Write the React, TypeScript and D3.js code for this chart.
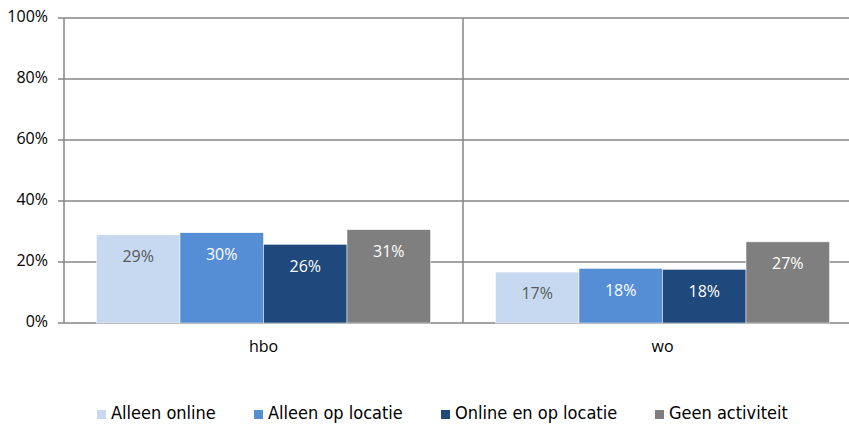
import React from "react";
import * as d3 from "d3";

const categories = ["hbo", "wo"];
const seriesNames = ["Alleen online", "Alleen op locatie", "Online en op locatie", "Geen activiteit"];
const seriesColors = ["#C6D9F1", "#558ED5", "#1F497D", "#7F7F7F"];
const labelColors = ["#595959", "#FFFFFF", "#FFFFFF", "#FFFFFF"];
const hboValues = [0.289, 0.296, 0.258, 0.306];
const woValues = [0.167, 0.179, 0.176, 0.266];
const yTicks = [0, 0.2, 0.4, 0.6, 0.8, 1.0];
const legendX = [97, 254, 441, 655];

const values: Record<string, number[]> = { hbo: hboValues, wo: woValues };

export default function App() {
  const W = 849, H = 424;
  const left = 64, top = 18, bottom = 323, catW = 399;
  const x0 = d3.scaleBand<string>().domain(categories).range([left, left + catW * categories.length]).padding(0);
  const x1 = d3.scaleBand<string>().domain(seriesNames).range([0, x0.bandwidth()]).paddingInner(0).paddingOuter(0.389);
  const y = d3.scaleLinear().domain([0, 1]).range([bottom, top]);
  const fmt = d3.format(".0%");
  const gridColor = "#868686";
  const font = "'Open Sans', sans-serif";

  return (
    <div style={{ position: "absolute", left: 0, top: 0 }}>
      <svg width={W} height={H} style={{ display: "block", background: "#fff" }}>
        {yTicks.map((t) => (
          <g key={t}>
            <line x1={left - 6} x2={W + 20} y1={y(t)} y2={y(t)} stroke={gridColor} strokeWidth={1.5} />
            <text x={48} y={y(t)} textAnchor="end" dominantBaseline="middle" fontFamily={font} fontSize={16} fill="#000">
              {fmt(t)}
            </text>
          </g>
        ))}
        <line x1={left} x2={left} y1={top} y2={bottom} stroke={gridColor} strokeWidth={1.5} />
        {categories.slice(1).map((c) => (
          <line key={c} x1={x0(c)!} x2={x0(c)!} y1={top} y2={bottom} stroke={gridColor} strokeWidth={1.5} />
        ))}
        {categories.map((c) => (
          <g key={c}>
            {seriesNames.map((s, i) => {
              const v = values[c][i];
              const bx = x0(c)! + x1(s)!;
              const by = y(v);
              return (
                <g key={s}>
                  <rect x={bx} y={by} width={x1.bandwidth()} height={bottom - by} fill={seriesColors[i]} stroke="#fff" strokeWidth={0.5} />
                  <text x={bx + x1.bandwidth() / 2} y={by + 23} textAnchor="middle" dominantBaseline="middle" fontFamily={font} fontSize={16} fill={labelColors[i]}>
                    {fmt(v)}
                  </text>
                </g>
              );
            })}
            <text x={x0(c)! + x0.bandwidth() / 2} y={348} textAnchor="middle" dominantBaseline="middle" fontFamily={font} fontSize={16} fill="#000">
              {c}
            </text>
          </g>
        ))}
        {seriesNames.map((s, i) => (
          <g key={s}>
            <rect x={legendX[i]} y={410} width={9} height={9} fill={seriesColors[i]} />
            <text x={legendX[i] + 14} y={419} fontFamily="'DejaVu Sans Condensed', 'DejaVu Sans', sans-serif" fontSize={18} fill="#000">
              {s}
            </text>
          </g>
        ))}
      </svg>
    </div>
  );
}
